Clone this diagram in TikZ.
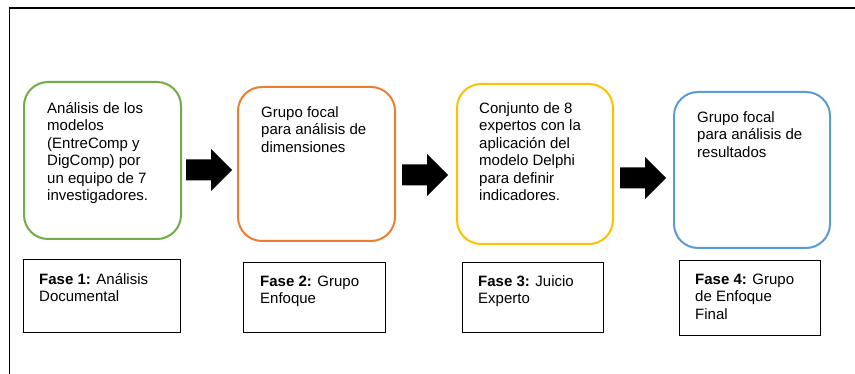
\documentclass[tikz,border=0pt]{standalone}
\usepackage{fontspec}
\setmainfont{Liberation Sans}
\usetikzlibrary{calc}
\definecolor{cgreen}{RGB}{112,173,71}
\definecolor{corange}{RGB}{237,125,49}
\definecolor{cyellow}{RGB}{255,192,0}
\definecolor{cblue}{RGB}{91,155,213}
\newcommand{\topst}{\rule{0pt}{14pt}}
\tikzset{
  phase/.style={draw, line width=2pt, rounded corners=24pt, minimum width=157pt, inner sep=0pt, fill=white},
  lbl/.style={draw=black, line width=1.3pt, inner sep=0pt, fill=white},
  txt/.style={font=\fontsize{15}{17.5}\selectfont, align=left, inner sep=0pt, anchor=north west},
  blockarrow/.pic={\fill[black] (0,-10.5) -- (25,-10.5) -- (25,-21) -- (46,0) -- (25,21) -- (25,10.5) -- (0,10.5) -- cycle;}
}
\begin{document}
\begin{tikzpicture}[x=1pt,y=-1pt]
\useasboundingbox (0,0) rectangle (855,374);
\clip (0,0) rectangle (855,374);
\draw[line width=1.3pt] (9.5,400) -- (9.5,8) -- (870,8);
% phase boxes
\node[phase, draw=cgreen, minimum height=157pt, minimum width=157pt, anchor=north west] (b1) at (23,81) {};
\node[phase, draw=corange, minimum height=154pt, minimum width=157pt, anchor=north west] (b2) at (237,86) {};
\node[phase, draw=cyellow, minimum height=160pt, minimum width=156pt, anchor=north west] (b3) at (456,83) {};
\node[phase, draw=cblue, minimum height=156pt, minimum width=156pt, anchor=north west] (b4) at (673,91) {};
\node[txt] (t1) at ($(b1.north west)+(24,18)$) {\topst Análisis de los\\modelos\\(EntreComp y\\DigComp) por\\un equipo de 7\\investigadores.};
\node[txt] (t2) at ($(b2.north west)+(24,17)$) {\topst Grupo focal\\para análisis de\\dimensiones};
\node[txt] (t3) at ($(b3.north west)+(23,16)$) {\topst Conjunto de 8\\expertos con la\\aplicación del\\modelo Delphi\\para definir\\indicadores.};
\node[txt] (t4) at ($(b4.north west)+(24,17)$) {\topst Grupo focal\\para análisis de\\resultados};
% label boxes
\node[lbl, minimum width=157pt, minimum height=73pt, anchor=north west] (l1) at (23,259) {};
\node[lbl, minimum width=142pt, minimum height=70pt, anchor=north west] (l2) at (243,262) {};
\node[lbl, minimum width=141pt, minimum height=70pt, anchor=north west] (l3) at (462,262) {};
\node[lbl, minimum width=141pt, minimum height=75pt, anchor=north west] (l4) at (679,260) {};
\node[txt] (s1) at ($(l1.north west)+(16,11)$) {\topst\textbf{Fase 1:} Análisis\\Documental};
\node[txt] (s2) at ($(l2.north west)+(17,10)$) {\topst\textbf{Fase 2:} Grupo\\Enfoque};
\node[txt] (s3) at ($(l3.north west)+(16,10)$) {\topst\textbf{Fase 3:} Juicio\\Experto};
\node[txt] (s4) at ($(l4.north west)+(16,10)$) {\topst\textbf{Fase 4:} Grupo\\de Enfoque\\Final};
% arrows
\coordinate (a1) at (186,170);
\coordinate (a2) at (402,175);
\coordinate (a3) at (620,178);
\pic at (a1) {blockarrow};
\pic at (a2) {blockarrow};
\pic at (a3) {blockarrow};
\end{tikzpicture}
\end{document}
